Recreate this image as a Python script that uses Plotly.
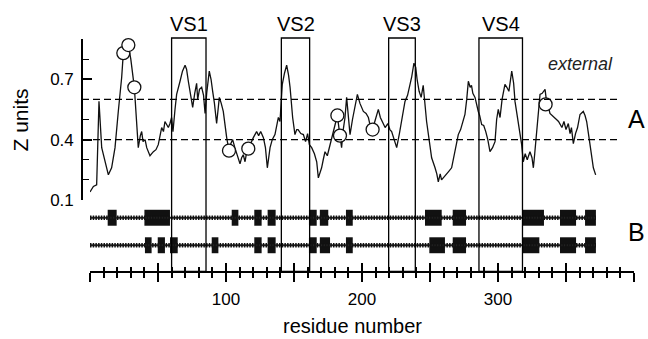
import plotly.graph_objects as go

# ---------------- data ----------------
residue = [0, 2.5, 4.9, 6.6, 8.6, 11, 13.5, 15.9, 18.4, 20.8, 23.3, 24.5, 26, 28.2, 30, 32.6, 34.3, 35.5,
           37, 38, 39, 40.5, 41.7, 43, 44.1, 46.6, 48.5, 50.2, 51.5, 52.7, 54, 55.1, 57.6, 58.8, 60, 61,
           62.5, 63.7, 66.2, 68, 69.9, 71, 72.3, 74.8, 75.5, 77, 78.4, 79.2, 80.5, 82.1, 83.5, 84.6, 85.8,
           87.7, 89, 90.2, 91.5, 93.1, 95.1, 96.5, 98, 100.5, 102.2, 103.5, 104.9, 106.5, 108, 109, 110.3,
           111.5, 112.7, 114, 115, 116.4, 118, 120.1, 122.5, 124, 125.5, 127.5, 129, 130.4, 132.4, 134,
           136, 138.5, 139.7, 141.4, 143, 144.6, 146, 147.1, 149, 150.7, 152, 153, 155, 156.9, 158.5, 160,
           161.3, 163, 165, 166.7, 167.9, 170.3, 171.5, 172.8, 174.5, 176.5, 178.9, 180.5, 181.9, 183,
           183.8, 185, 186, 187.5, 188.7, 190, 191.2, 193, 195, 196.6, 198.5, 201, 203, 204.7, 206, 207.8,
           209, 210.5, 212, 213.5, 215, 217, 219, 220.5, 221.8, 223.5, 225.5, 227.5, 229.2, 231.6, 233.5,
           235.3, 236.5, 238.2, 239.5, 240.5, 242, 243.5, 245, 247.5, 249.5, 251.2, 253.7, 255, 256.1,
           257.5, 258.5, 259.8, 261.5, 263.5, 265.9, 267, 268.4, 270.8, 272.5, 274, 275.7, 277, 278.2,
           279.5, 280.5, 281.5, 283.1, 285.5, 286.5, 288, 289.5, 291, 292.5, 294.1, 296, 297.8, 299, 300.2,
           301.5, 303, 305.1, 306.5, 308, 310.1, 311.5, 312.5, 315, 317.4, 318.6, 320, 321.5, 323.5, 325,
           326, 327, 328.4, 330.9, 332.5, 334.6, 335.5, 336.5, 338.2, 340, 341.5, 343, 344.5, 345.6, 347,
           348.5, 350, 351.7, 353, 354, 355.4, 357, 358.5, 360.3, 362.7, 364, 365.2, 366.5, 367.6, 369,
           370.1, 371.8]
z_units = [0.14, 0.167, 0.175, 0.59, 0.36, 0.29, 0.225, 0.26, 0.36, 0.54, 0.71, 0.83, 0.80, 0.87, 0.80, 0.66,
           0.51, 0.36, 0.42, 0.44, 0.39, 0.40, 0.36, 0.34, 0.32, 0.34, 0.35, 0.375, 0.43, 0.46, 0.44, 0.49,
           0.46, 0.48, 0.51, 0.44, 0.55, 0.625, 0.69, 0.74, 0.77, 0.75, 0.69, 0.59, 0.56, 0.63, 0.68, 0.60,
           0.65, 0.66, 0.62, 0.53, 0.63, 0.74, 0.70, 0.64, 0.58, 0.48, 0.61, 0.58, 0.54, 0.41, 0.345, 0.38,
           0.40, 0.36, 0.33, 0.30, 0.28, 0.31, 0.325, 0.29, 0.33, 0.355, 0.38, 0.41, 0.44, 0.42, 0.44, 0.41,
           0.36, 0.26, 0.36, 0.40, 0.425, 0.51, 0.49, 0.675, 0.73, 0.77, 0.72, 0.66, 0.51, 0.425, 0.45, 0.45,
           0.43, 0.425, 0.39, 0.43, 0.375, 0.36, 0.33, 0.29, 0.21, 0.26, 0.30, 0.34, 0.32, 0.375, 0.44, 0.48,
           0.52, 0.46, 0.42, 0.36, 0.44, 0.51, 0.61, 0.52, 0.425, 0.50, 0.56, 0.625, 0.58, 0.54, 0.53, 0.51,
           0.47, 0.45, 0.48, 0.52, 0.55, 0.51, 0.49, 0.46, 0.48, 0.45, 0.44, 0.40, 0.36, 0.43, 0.49, 0.59,
           0.62, 0.675, 0.71, 0.78, 0.76, 0.70, 0.64, 0.61, 0.67, 0.49, 0.38, 0.31, 0.26, 0.23, 0.19, 0.23,
           0.20, 0.21, 0.22, 0.24, 0.26, 0.30, 0.34, 0.425, 0.45, 0.49, 0.525, 0.60, 0.69, 0.66, 0.67, 0.63,
           0.61, 0.54, 0.52, 0.475, 0.47, 0.44, 0.40, 0.34, 0.36, 0.39, 0.50, 0.55, 0.51, 0.60, 0.675, 0.66,
           0.64, 0.74, 0.68, 0.59, 0.475, 0.375, 0.29, 0.33, 0.30, 0.34, 0.31, 0.26, 0.33, 0.425, 0.625,
           0.63, 0.65, 0.60, 0.58, 0.53, 0.52, 0.51, 0.50, 0.49, 0.475, 0.46, 0.49, 0.45, 0.48, 0.43, 0.46,
           0.38, 0.43, 0.46, 0.525, 0.54, 0.52, 0.49, 0.43, 0.375, 0.30, 0.26, 0.225]

circle_residue = [24.5, 28.2, 32.6, 102.2, 116.4, 181.9, 183.8, 207.8, 335]
circle_z = [0.83, 0.87, 0.66, 0.345, 0.355, 0.52, 0.42, 0.45, 0.575]

threshold_z = [0.4, 0.6]

vs_labels = ["VS1", "VS2", "VS3", "VS4"]
vs_start = [60, 140.7, 219.6, 286]
vs_end = [85.3, 161.5, 239.2, 318]

track_rows = ["row1", "row2"]
track_row_y = [1.5, 0.5]
track_length = 372
row1_start = [13, 40, 104.2, 120.8, 130.6, 161, 169, 188.2, 246.3, 266.7, 318.1, 345.6, 364]
row1_end = [19.6, 58.8, 109.1, 126.2, 136.5, 166.7, 175.2, 193.2, 258.6, 276.5, 333.8, 357.4, 372]
row2_start = [40.4, 49.8, 58.8, 89.5, 120.8, 130.6, 161, 169, 188.2, 249.5, 266.7, 318.1, 345.6, 364]
row2_end = [45.3, 55.1, 64.5, 94.4, 126.2, 136.5, 166.7, 176.5, 193.2, 261, 276.5, 330.4, 357.4, 372]

x_tickvals = [0, 50, 100, 150, 200, 250, 300, 350, 400]
x_ticktext = ["", "", "100", "", "200", "", "300", "", ""]
y_tickvals = [0.1, 0.4, 0.7]
y_ticktext = ["0.1", "0.4", "0.7"]

# ---------------- layout geometry ----------------
W, H = 648, 339
FONT = "Liberation Sans, Arial, sans-serif"


def px(xp):
    return xp / W


def py(yp):
    return (H - yp) / H


x_dom = [px(90), px(634)]
axis_pos = py(271.5)

fig = go.Figure()

# threshold lines (dashed)
for tz in threshold_z:
    fig.add_shape(type="line", xref="paper", yref="y", x0=px(82), x1=px(621), y0=tz, y1=tz,
                  line=dict(color="black", width=1.3, dash="7px,4px"))

# VS boxes
for s, e in zip(vs_start, vs_end):
    fig.add_shape(type="rect", xref="x", yref="paper", x0=s, x1=e, y0=axis_pos, y1=py(38),
                  line=dict(color="black", width=1.3), fillcolor="rgba(0,0,0,0)")

# hydrophobicity curve
fig.add_trace(go.Scatter(x=residue, y=z_units, mode="lines",
                         line=dict(color="#111", width=1.3), xaxis="x", yaxis="y",
                         hoverinfo="skip"))
fig.add_trace(go.Scatter(x=circle_residue, y=circle_z, mode="markers",
                         marker=dict(symbol="circle", size=13, color="white",
                                     line=dict(color="#111", width=1.3)),
                         xaxis="x", yaxis="y", cliponaxis=False))

# tracks: chain backbone
for ry in track_row_y:
    fig.add_trace(go.Scatter(x=[0, track_length], y=[ry, ry], mode="lines",
                             line=dict(color="#222", width=2.2), xaxis="x2", yaxis="y2"))
    fig.add_trace(go.Scatter(x=[0, track_length], y=[ry, ry], mode="lines",
                             line=dict(color="#111", width=4.5, dash="1.5px,1.2px"),
                             xaxis="x2", yaxis="y2"))

for ry, starts, ends in zip(track_row_y, [row1_start, row2_start], [row1_end, row2_end]):
    fig.add_trace(go.Bar(orientation="h", y=[ry] * len(starts),
                         x=[e - s for s, e in zip(starts, ends)], base=starts,
                         width=0.58, marker=dict(color="#111", line=dict(width=0)),
                         xaxis="x2", yaxis="y2"))

annotations = []
for lab, s, e in zip(vs_labels, vs_start, vs_end):
    annotations.append(dict(text=lab, x=(s + e) / 2, y=py(24.5), xref="x", yref="paper",
                            showarrow=False, xanchor="center", yanchor="middle",
                            font=dict(family=FONT, size=20, color="black")))
annotations += [
    dict(text="<i>external</i>", x=px(580), y=py(63.5), xref="paper", yref="paper", showarrow=False,
         xanchor="center", yanchor="middle", font=dict(family=FONT, size=18, color="#222")),
    dict(text="A", x=px(636), y=py(119), xref="paper", yref="paper", showarrow=False,
         xanchor="center", yanchor="middle", font=dict(family=FONT, size=25, color="black")),
    dict(text="B", x=px(636), y=py(231.5), xref="paper", yref="paper", showarrow=False,
         xanchor="center", yanchor="middle", font=dict(family=FONT, size=25, color="black")),
    dict(text="Z units", x=px(19.5), y=py(120), xref="paper", yref="paper", showarrow=False,
         textangle=-90, xanchor="center", yanchor="middle",
         font=dict(family=FONT, size=21, color="black")),
    dict(text="residue number", x=px(352), y=py(326), xref="paper", yref="paper", showarrow=False,
         xanchor="center", yanchor="middle", borderpad=0,
         font=dict(family=FONT, size=20, color="black")),
]

fig.update_layout(
    width=W, height=H, margin=dict(l=0, r=0, t=0, b=0, autoexpand=False),
    paper_bgcolor="white", plot_bgcolor="white", showlegend=False, barmode="overlay",
    font=dict(family=FONT, color="black"),
    xaxis=dict(domain=x_dom, range=[0, 400], anchor="free", position=axis_pos, automargin=False,
               showline=True, linecolor="black", linewidth=2.2, showgrid=False, zeroline=False,
               tickmode="array", tickvals=x_tickvals, ticktext=x_ticktext,
               ticks="outside", ticklen=9, tickwidth=2, tickcolor="black",
               tickfont=dict(size=17, family=FONT, color="black"), ticklabelstandoff=3,
               minor=dict(tickmode="linear", tick0=0, dtick=10, ticks="outside", ticklen=5,
                          tickwidth=1.6, tickcolor="black", showgrid=False)),
    xaxis2=dict(domain=x_dom, range=[0, 400], anchor="free", position=axis_pos, automargin=False,
                showline=False, showgrid=False, zeroline=False, showticklabels=False,
                tickmode="array", tickvals=x_tickvals,
                ticks="inside", ticklen=9, tickwidth=2, tickcolor="black",
                minor=dict(tickmode="linear", tick0=0, dtick=10, ticks="inside", ticklen=5,
                           tickwidth=1.6, tickcolor="black", showgrid=False)),
    yaxis=dict(domain=[py(200), py(39)], range=[0.1, 0.9], anchor="free", position=px(82),
               automargin=False,
               showline=True, linecolor="black", linewidth=1.6, showgrid=False, zeroline=False,
               tickmode="array", tickvals=y_tickvals, ticktext=y_ticktext,
               ticks="inside", ticklen=9, tickwidth=1.6, tickcolor="black",
               tickfont=dict(size=17, family=FONT, color="black"), ticklabelstandoff=4,
               minor=dict(tickmode="linear", tick0=0.1, dtick=0.1, ticks="inside", ticklen=6,
                          tickwidth=1.4, tickcolor="black", showgrid=False)),
    yaxis2=dict(domain=[py(259), py(204)], range=[0, 2], anchor="x2", visible=False,
                automargin=False),
    annotations=annotations,
)

fig.write_html("out.html", config={"displayModeBar": False},
               post_script="document.body.style.margin='0';document.body.style.padding='0';"
                           "document.documentElement.style.overflow='hidden';")
